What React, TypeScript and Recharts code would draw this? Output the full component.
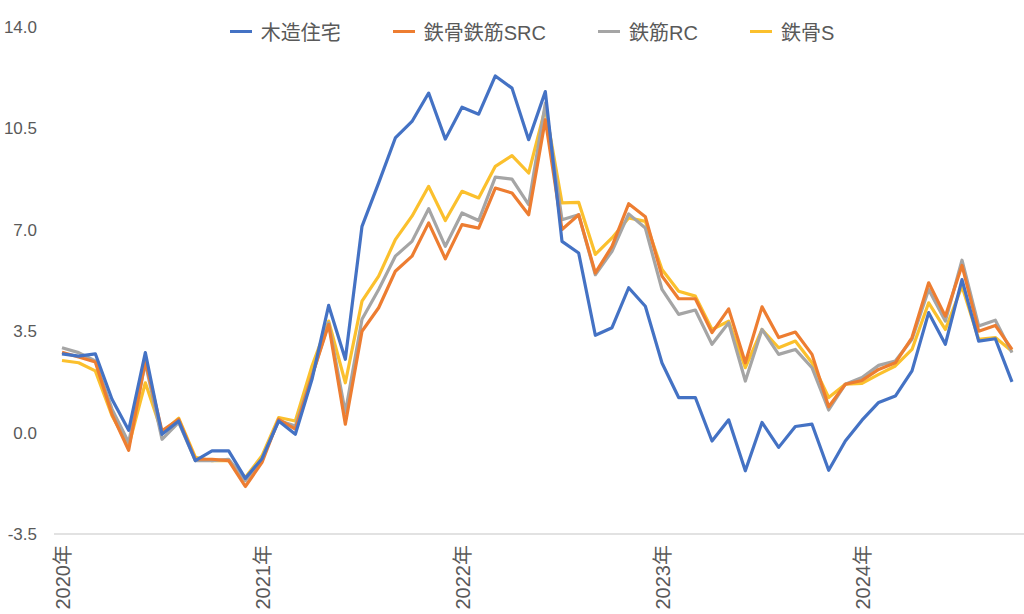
import { Legend, Line, LineChart, XAxis, YAxis } from "recharts";

const months = [
  "2020-01", "2020-02", "2020-03", "2020-04", "2020-05", "2020-06", "2020-07", "2020-08", "2020-09", "2020-10", "2020-11", "2020-12",
  "2021-01", "2021-02", "2021-03", "2021-04", "2021-05", "2021-06", "2021-07", "2021-08", "2021-09", "2021-10", "2021-11", "2021-12",
  "2022-01", "2022-02", "2022-03", "2022-04", "2022-05", "2022-06", "2022-07", "2022-08", "2022-09", "2022-10", "2022-11", "2022-12",
  "2023-01", "2023-02", "2023-03", "2023-04", "2023-05", "2023-06", "2023-07", "2023-08", "2023-09", "2023-10", "2023-11", "2023-12",
  "2024-01", "2024-02", "2024-03", "2024-04", "2024-05", "2024-06", "2024-07", "2024-08", "2024-09", "2024-10",
];

// 木造住宅
const wood = [
  2.72, 2.64, 2.72, 1.15, 0.08, 2.76, -0.06, 0.4, -0.97, -0.63, -0.63, -1.58,
  -0.9, 0.4, -0.06, 1.84, 4.39, 2.53, 7.12, 8.62, 10.17, 10.74, 11.72, 10.13,
  11.23, 10.99, 12.31, 11.89, 10.11, 11.77, 6.6, 6.2, 3.36, 3.62, 5.0, 4.36,
  2.4, 1.21, 1.21, -0.29, 0.44, -1.32, 0.35, -0.51, 0.21, 0.29, -1.3, -0.29,
  0.43, 1.04, 1.26, 2.13, 4.14, 3.05, 5.28, 3.16, 3.24, 1.75,
];

// 鉄骨鉄筋SRC
const src = [
  2.77, 2.61, 2.44, 0.63, -0.61, 2.47, 0.06, 0.46, -0.92, -0.92, -0.97, -1.86,
  -1.03, 0.46, 0.12, 1.95, 3.73, 0.29, 3.5, 4.31, 5.57, 6.09, 7.24, 6.0,
  7.18, 7.06, 8.44, 8.27, 7.52, 10.8, 7.01, 7.52, 5.51, 6.43, 7.9, 7.45,
  5.4, 4.62, 4.62, 3.45, 4.27, 2.41, 4.34, 3.28, 3.47, 2.7, 0.89, 1.67,
  1.8, 2.18, 2.41, 3.28, 5.17, 4.02, 5.77, 3.5, 3.7, 2.87,
];

// 鉄筋RC
const rc = [
  2.93, 2.76, 2.47, 0.81, -0.34, 2.4, -0.23, 0.35, -0.97, -0.97, -0.92, -1.66,
  -0.92, 0.42, 0.23, 1.95, 3.79, 0.69, 3.91, 4.94, 6.09, 6.6, 7.73, 6.43,
  7.58, 7.32, 8.82, 8.75, 7.87, 11.37, 7.35, 7.52, 5.45, 6.26, 7.55, 7.06,
  4.94, 4.08, 4.23, 3.05, 3.79, 1.78, 3.56, 2.7, 2.87, 2.24, 0.78, 1.67,
  1.9, 2.32, 2.47, 3.22, 4.94, 3.85, 5.95, 3.68, 3.88, 2.76,
];

// 鉄骨S
const steel = [
  2.49, 2.41, 2.13, 0.58, -0.46, 1.72, 0.0, 0.5, -0.85, -0.97, -0.97, -1.55,
  -0.8, 0.52, 0.4, 2.3, 3.85, 1.72, 4.54, 5.4, 6.66, 7.47, 8.5, 7.32,
  8.33, 8.1, 9.19, 9.56, 8.96, 11.2, 7.93, 7.95, 6.15, 6.72, 7.41, 7.29,
  5.63, 4.88, 4.71, 3.56, 3.85, 2.24, 3.56, 2.93, 3.16, 2.41, 1.21, 1.67,
  1.7, 2.01, 2.3, 2.87, 4.48, 3.56, 5.05, 3.22, 3.28, 2.81,
];

const yTicks = [-3.5, 0, 3.5, 7, 10.5, 14];

const series = [
  { key: "木造住宅", color: "#4472C4" },
  { key: "鉄骨鉄筋SRC", color: "#ED7D31" },
  { key: "鉄筋RC", color: "#A5A5A5" },
  { key: "鉄骨S", color: "#FBC02D" },
];

const data = months.map((m, i) => ({
  month: m,
  木造住宅: wood[i],
  鉄骨鉄筋SRC: src[i],
  鉄筋RC: rc[i],
  鉄骨S: steel[i],
}));

const FONT = '"Liberation Sans", "Noto Sans CJK JP", sans-serif';
const TEXT = "#595959";

const YearTick = ({ x, payload }: any) => (
  <text
    transform={`translate(${x + 1},545) rotate(-90)`}
    textAnchor="end"
    dominantBaseline="central"
    fill={TEXT}
    fontSize={20}
    fontFamily={FONT}
  >
    {payload.value.slice(0, 4) + "年"}
  </text>
);

const LegendRow = () => (
  <div
    style={{
      display: "flex",
      justifyContent: "center",
      gap: 52,
      paddingLeft: 40,
      fontFamily: FONT,
      fontSize: 20,
      color: TEXT,
    }}
  >
    {series.map((s) => (
      <div key={s.key} style={{ display: "flex", alignItems: "center" }}>
        <div style={{ width: 22, height: 3, background: s.color, marginRight: 9 }} />
        <span>{s.key}</span>
      </div>
    ))}
  </div>
);

export default function App() {
  return (
    <div style={{ position: "absolute", left: 0, top: 0, background: "#fff" }}>
      <LineChart
        width={1024}
        height={614}
        data={data}
        margin={{ top: 27, right: 0, bottom: 0, left: 0 }}
      >
        <XAxis
          dataKey="month"
          interval={11}
          height={80}
          padding={{ left: 8, right: 12 }}
          axisLine={{ stroke: "#D9D9D9", strokeWidth: 1.5 }}
          tickLine={false}
          tick={<YearTick />}
        />
        <YAxis
          width={54}
          domain={[-3.5, 14]}
          ticks={yTicks}
          interval={0}
          axisLine={false}
          tickLine={false}
          tickSize={0}
          tickMargin={17}
          tickFormatter={(v: number) => v.toFixed(1)}
          tick={{ fill: TEXT, fontSize: 17, fontFamily: FONT }}
        />
        <Legend
          verticalAlign="middle"
          content={<LegendRow />}
          wrapperStyle={{ top: 17, left: 0, width: 1024 }}
        />
        {[...series].reverse().map((s) => (
          <Line
            key={s.key}
            type="linear"
            dataKey={s.key}
            stroke={s.color}
            strokeWidth={3.2}
            dot={false}
            activeDot={false}
            isAnimationActive={false}
            strokeLinejoin="round"
          />
        ))}
      </LineChart>
    </div>
  );
}
